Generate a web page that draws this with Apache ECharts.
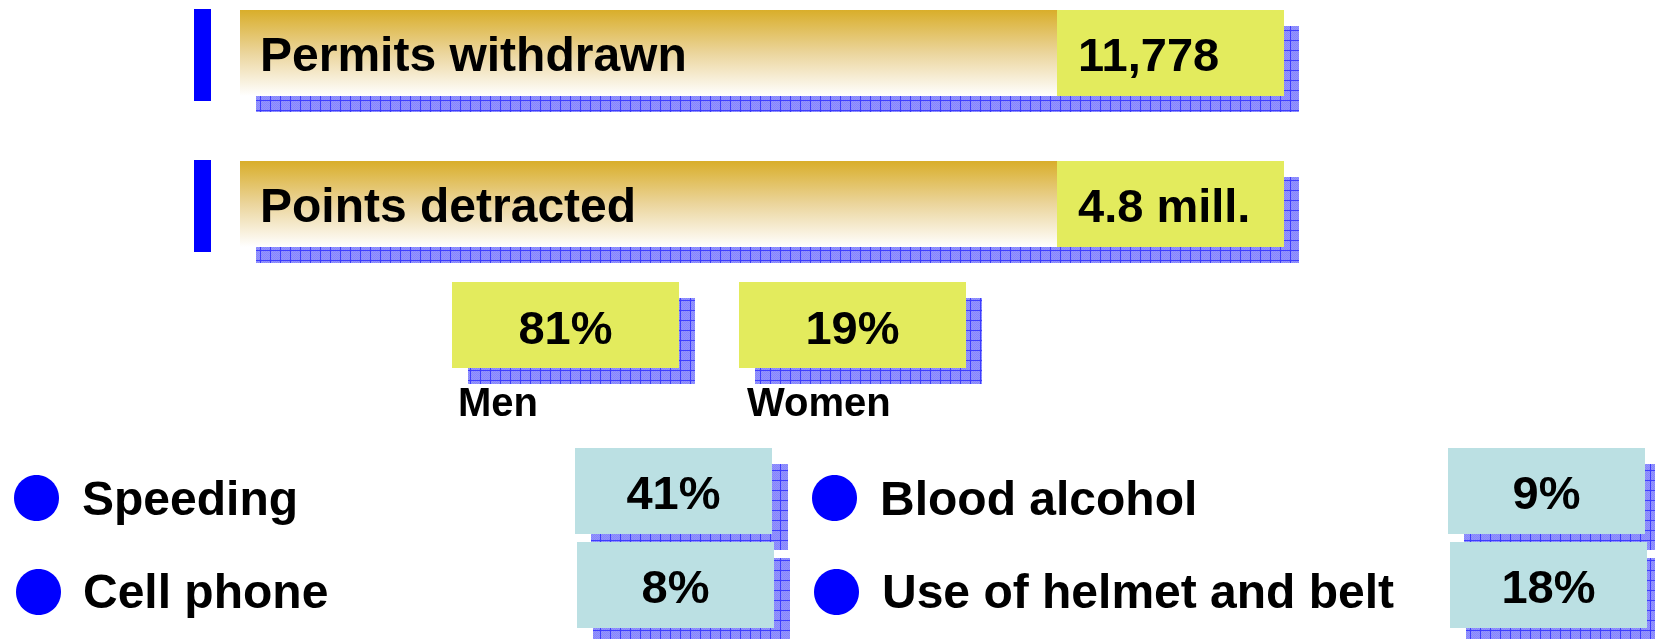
<!DOCTYPE html>
<html>
<head>
<meta charset="utf-8">
<script src="https://cdn.jsdelivr.net/npm/echarts@6/dist/echarts.min.js"></script>
<style>
  html, body { margin: 0; padding: 0; background: #ffffff; }
  #chart { width: 1655px; height: 639px; }
</style>
</head>
<body>
<div id="chart"></div>
<script>
// ---- data ----
const headlineLabels = ['Permits withdrawn', 'Points detracted'];
const headlineValues = ['11,778', '4.8 mill.'];
const genderLabels = ['Men', 'Women'];
const genderValues = [81, 19];
const causeLabels = ['Speeding', 'Cell phone', 'Blood alcohol', 'Use of helmet and belt'];
const causeValues = [41, 8, 9, 18];

// ---- layout ----
const FONT = '"Liberation Sans", Arial, Helvetica, sans-serif';
const headlineTop = [10, 161];
const genderBoxX = [452, 739];
const genderLabelX = [458, 747];
const causeBoxX = [575, 577, 1448, 1450];
const causeBoxY = [448, 542, 448, 542];
const causeDotX = [36.5, 38.5, 834.5, 836.5];
const causeDotY = [498, 592, 498, 592];
const causeLabelX = [82, 83, 880, 882];
const causeLabelY = [502, 595, 502, 595];

function makePattern() {
  const c = document.createElement('canvas');
  c.width = 10; c.height = 10;
  const g = c.getContext('2d');
  g.fillStyle = '#9494ff';
  g.fillRect(0, 0, 10, 10);
  for (let y = 0; y < 10; y++) {
    for (let x = 0; x < 10; x++) {
      if ((x + y) % 2 === 0) { g.fillStyle = '#8585fa'; g.fillRect(x, y, 1, 1); }
    }
  }
  g.fillStyle = '#3d3dff';
  g.fillRect(0, 0, 10, 1);
  g.fillRect(0, 0, 1, 10);
  return c;
}
const pattern = { image: makePattern(), repeat: 'repeat' };

function txt(x, y, text, size, align) {
  return {
    type: 'text', x: x, y: y, z: 20,
    style: {
      text: text, fill: '#000000',
      font: 'bold ' + size + 'px ' + FONT,
      textAlign: align, textVerticalAlign: 'middle',
      align: align, verticalAlign: 'middle'
    }
  };
}
function rect(x, y, w, h, fill, z) {
  return { type: 'rect', z: z, shape: { x: x, y: y, width: w, height: h }, style: { fill: fill } };
}

const elements = [];
const goldGrad = new echarts.graphic.LinearGradient(0, 0, 0, 1, [
  { offset: 0, color: '#d9ae2a' },
  { offset: 0.5, color: '#ebd59c' },
  { offset: 1, color: '#ffffff' }
]);

headlineLabels.forEach((lab, i) => {
  const y0 = headlineTop[i];
  elements.push(rect(194, y0 - 1, 17, 92, '#0000ff', 1));
  elements.push(rect(256, y0 + 16, 1043, 86, pattern, 1));
  elements.push(rect(240, y0, 817, 86, goldGrad, 2));
  elements.push(rect(1057, y0, 227, 86, '#e3eb5d', 2));
  elements.push(txt(260, y0 + 48, lab, 48, 'left'));
  elements.push(txt(1078, y0 + 48, headlineValues[i], 47, 'left'));
});

genderLabels.forEach((lab, i) => {
  const x0 = genderBoxX[i], y0 = 282;
  elements.push(rect(x0 + 16, y0 + 16, 227, 86, pattern, 1));
  elements.push(rect(x0, y0, 227, 86, '#e3eb5d', 2));
  elements.push(txt(x0 + 113.5, y0 + 49, genderValues[i] + '%', 47, 'center'));
  elements.push(txt(genderLabelX[i], 405, lab, 40, 'left'));
});

causeLabels.forEach((lab, i) => {
  const x0 = causeBoxX[i], y0 = causeBoxY[i];
  const z = 3 + i * 2;
  elements.push(rect(x0 + 16, y0 + 16, 197, 86, pattern, z));
  elements.push(rect(x0, y0, 197, 86, '#bbe0e3', z + 1));
  elements.push(txt(x0 + 98.5, y0 + 48, causeValues[i] + '%', 47, 'center'));
  elements.push({ type: 'ellipse', z: 2, shape: { cx: causeDotX[i], cy: causeDotY[i], rx: 22.5, ry: 23 }, style: { fill: '#0000ff' } });
  elements.push(txt(causeLabelX[i], causeLabelY[i], lab, 48, 'left'));
});

const chart = echarts.init(document.getElementById('chart'), null, { renderer: 'canvas' });
chart.setOption({
  backgroundColor: '#ffffff',
  animation: false,
  graphic: { elements: elements }
});
</script>
</body>
</html>
